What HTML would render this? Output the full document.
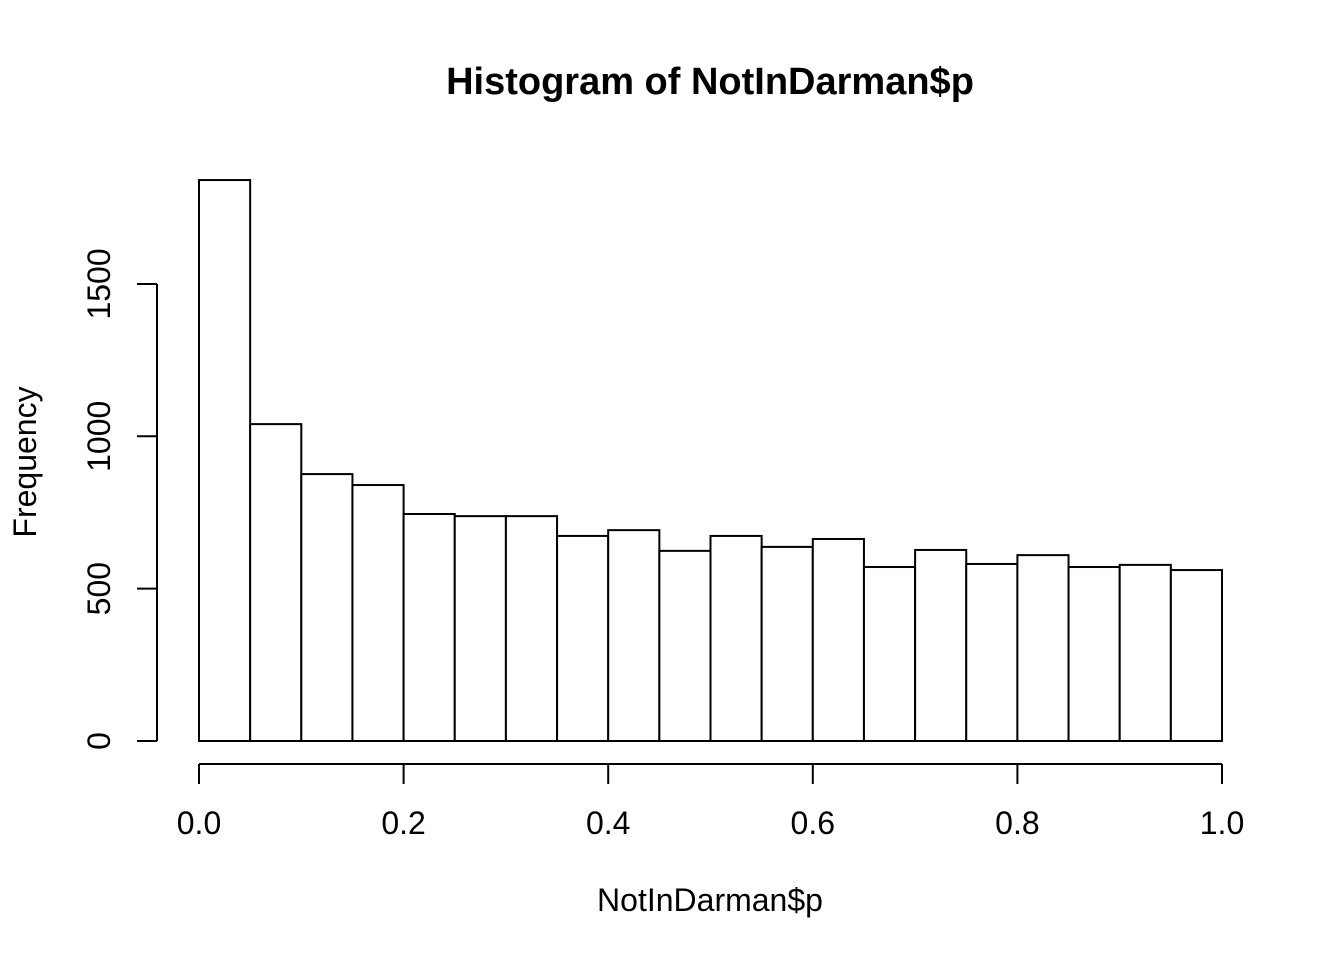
<!DOCTYPE html>
<html><head><meta charset="utf-8"><style>
html,body{margin:0;padding:0;background:#fff;}
svg{display:block;font-family:"Liberation Sans",Arial,sans-serif;}
</style></head><body>
<svg id="chart" width="1344" height="960" viewBox="0 0 1344 960" xmlns="http://www.w3.org/2000/svg">
<text x="710" y="94" text-anchor="middle" font-size="38" font-weight="bold">Histogram of NotInDarman$p</text>
<text x="710" y="911" text-anchor="middle" font-size="32">NotInDarman$p</text>
<text transform="translate(36,462) rotate(-90)" text-anchor="middle" font-size="32">Frequency</text>
<g id="bars"></g>
<g id="xaxis"></g>
<g id="yaxis"></g>
</svg>
<script>
const binStarts = [0,0.05,0.1,0.15,0.2,0.25,0.3,0.35,0.4,0.45,0.5,0.55,0.6,0.65,0.7,0.75,0.8,0.85,0.9,0.95];
const counts = [1841,1040,876,840,745,738,738,673,692,624,673,637,663,571,627,581,610,571,578,561];
const binWidth = 0.05;
const xTicks = [0,0.2,0.4,0.6,0.8,1.0];
const xTickLabels = ["0.0","0.2","0.4","0.6","0.8","1.0"];
const yTicks = [0,500,1000,1500];
const yTickLabels = ["0","500","1000","1500"];

const NS = "http://www.w3.org/2000/svg";
const xs = v => 199 + v * 1023;
const ys = v => 741 - v * 0.3047;
function mk(tag, attrs, parent){const e=document.createElementNS(NS,tag);for(const k in attrs)e.setAttribute(k,attrs[k]);parent.appendChild(e);return e;}

const bars = document.getElementById('bars');
binStarts.forEach((b,i)=>{
  const x0=xs(b), x1=xs(b+binWidth), y=ys(counts[i]);
  const r=mk('rect',{x:x0,y:y,width:x1-x0,height:ys(0)-y,fill:'#fff',stroke:'#000','stroke-width':2},bars);
  
  
});

const xa = document.getElementById('xaxis');
mk('line',{x1:xs(xTicks[0]),x2:xs(xTicks[xTicks.length-1]),y1:764,y2:764,stroke:'#000','stroke-width':2},xa);
xTicks.forEach((t,i)=>{
  mk('line',{x1:xs(t),x2:xs(t),y1:764,y2:784,stroke:'#000','stroke-width':2},xa);
  const tx=mk('text',{x:xs(t),y:834,'text-anchor':'middle','font-size':32},xa);
  tx.textContent=xTickLabels[i];
  
  
});

const ya = document.getElementById('yaxis');
mk('line',{x1:157,x2:157,y1:ys(yTicks[0]),y2:ys(yTicks[yTicks.length-1]),stroke:'#000','stroke-width':2},ya);
yTicks.forEach((t,i)=>{
  mk('line',{x1:137,x2:157,y1:ys(t),y2:ys(t),stroke:'#000','stroke-width':2},ya);
  const tx=mk('text',{transform:`translate(110,${ys(t)}) rotate(-90)`,'text-anchor':'middle','font-size':32},ya);
  tx.textContent=yTickLabels[i];
  
  
});
</script>
</body></html>
